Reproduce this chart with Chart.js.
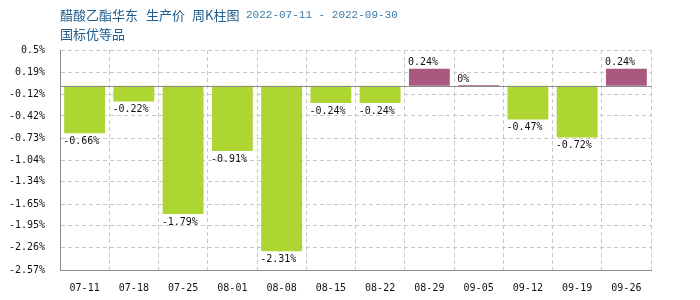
<!DOCTYPE html>
<html>
<head>
<meta charset="utf-8">
<script src="https://cdn.jsdelivr.net/npm/chart.js@4/dist/chart.umd.min.js"></script>
<style>
  html, body { margin: 0; padding: 0; background: #fff; }
  #wrap { width: 700px; height: 300px; position: relative; }
</style>
</head>
<body>
<div id="wrap"><canvas id="chart"></canvas></div>
<script>
// Dados
const semanas = ['07-11', '07-18', '07-25', '08-01', '08-08', '08-15',
  '08-22', '08-29', '09-05', '09-12', '09-19', '09-26'];
const variacao = [-0.66, -0.22, -1.79, -0.91, -2.31, -0.24,
  -0.24, 0.24, 0, -0.47, -0.72, 0.24];
const yTicks = [0.5, 0.19, -0.12, -0.42, -0.73, -1.04, -1.34, -1.65, -1.95, -2.26, -2.57];
const yTickLabels = ['0.5%', '0.19%', '-0.12%', '-0.42%', '-0.73%', '-1.04%',
  '-1.34%', '-1.65%', '-1.95%', '-2.26%', '-2.57%'];

const COR_QUEDA = '#add633';
const COR_ALTA = '#a9587f';
const MONO = "'DejaVu Sans Mono', monospace";

// Título + linha zero + rótulos das barras
const extras = {
  id: 'extras',
  afterDraw(chart) {
    const ctx = chart.ctx;
    const y = chart.scales.y;
    const area = chart.chartArea;

    // linha do zero
    const y0 = Math.round(y.getPixelForValue(0)) + 0.5;
    ctx.save();
    ctx.strokeStyle = '#8c8c8c';
    ctx.lineWidth = 1;
    ctx.beginPath();
    ctx.moveTo(area.left, y0);
    ctx.lineTo(area.right, y0);
    ctx.stroke();

    // título
    ctx.textBaseline = 'middle';
    ctx.textAlign = 'left';
    ctx.fillStyle = '#1d5b8c';
    ctx.font = "13px 'Noto Sans CJK SC'";
    ctx.fillText('醋酸乙酯华东', 60, 15);
    ctx.fillText('生产价', 146, 15);
    ctx.fillText('周K柱图', 192, 15);
    ctx.fillText('国标优等品', 60, 34);
    ctx.fillStyle = '#3a7aa8';
    ctx.font = "11px 'Liberation Mono', monospace";
    ctx.fillText('2022-07-11 - 2022-09-30', 246, 15);

    // rótulos
    ctx.fillStyle = '#111';
    ctx.font = '10px ' + MONO;
    const meta = chart.getDatasetMeta(0);
    meta.data.forEach(function(bar, i) {
      const v = variacao[i];
      const left = bar.x - bar.width / 2 - 1;
      const txt = v + '%';
      if (v < 0) {
        ctx.textBaseline = 'top';
        ctx.fillText(txt, left, bar.y + 3);
      } else {
        ctx.textBaseline = 'bottom';
        ctx.fillText(txt, left, Math.min(bar.y, bar.base) - 1);
      }
    });
    ctx.restore();
  }
};

new Chart(document.getElementById('chart'), {
  type: 'bar',
  data: {
    labels: semanas,
    datasets: [{
      data: variacao,
      backgroundColor: variacao.map(function(v) { return v < 0 ? COR_QUEDA : COR_ALTA; }),
      barPercentage: 0.83,
      categoryPercentage: 1,
      minBarLength: 1
    }]
  },
  options: {
    responsive: true,
    maintainAspectRatio: false,
    animation: false,
    layout: { padding: { left: 0, right: 49, top: 50, bottom: 0 } },
    plugins: {
      legend: { display: false },
      tooltip: { enabled: false }
    },
    scales: {
      x: {
        afterFit: function(s) { s.height = 30; },
        ticks: { color: '#111', font: { family: MONO, size: 10 }, padding: 12, maxRotation: 0 },
        grid: { color: '#c8c8c8', drawTicks: false, offset: true },
        border: { color: '#8c8c8c', dash: [4, 3] }
      },
      y: {
        min: -2.57,
        max: 0.5,
        afterFit: function(s) { s.width = 60; },
        afterBuildTicks: function(s) {
          s.ticks = yTicks.map(function(v) { return { value: v }; });
        },
        ticks: {
          color: '#111',
          font: { family: MONO, size: 10 },
          padding: 15,
          callback: function(v, i) { return yTickLabels[i]; }
        },
        grid: { color: '#c8c8c8', drawTicks: false },
        border: { color: '#8c8c8c', dash: [4, 3] }
      }
    }
  },
  plugins: [extras]
});
</script>
</body>
</html>
